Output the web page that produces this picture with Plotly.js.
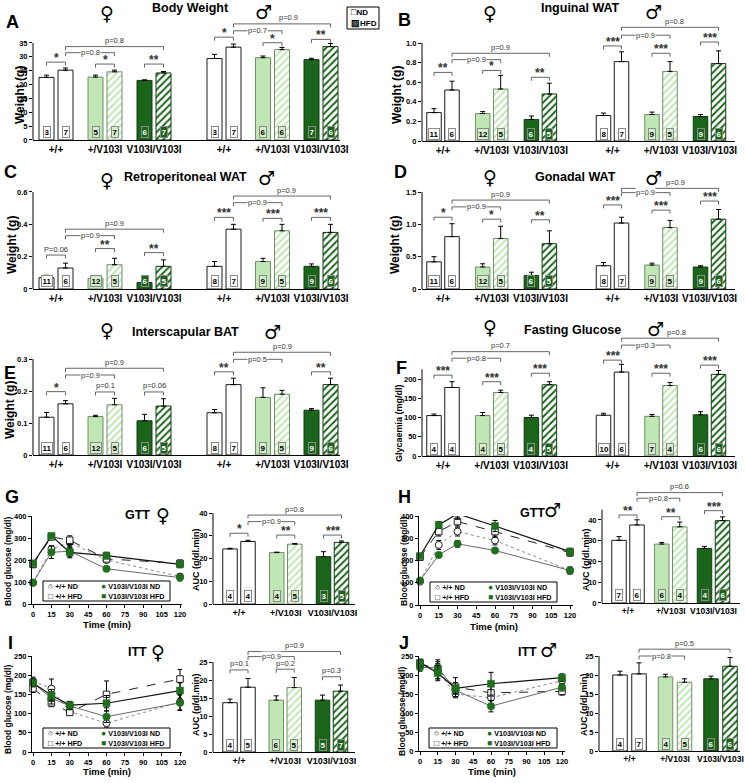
<!DOCTYPE html>
<html><head><meta charset="utf-8">
<script src="https://cdn.plot.ly/plotly-3.0.1.min.js"></script>
<style>html,body{margin:0;padding:0;background:#fff}</style>
</head><body><div id="chart" style="width:745px;height:783px"></div>
<script>
// ================= DATA =================
const genotypes = ['+/+', '+/V103I', 'V103I/V103I'];
const time = [0, 15, 30, 60, 120];
const timeTicks = [0, 15, 30, 45, 60, 75, 90, 105, 120];

// A. Body Weight (g)
const bwF_ND = [22.6, 22.7, 21.5], bwF_NDerr = [0.8, 0.7, 0.2];
const bwF_HFD = [25.2, 24.6, 24.2], bwF_HFDerr = [0.8, 0.6, 0.5];
const bwM_ND = [29.4, 29.7, 29.0], bwM_NDerr = [1.5, 0.6, 0.5];
const bwM_HFD = [33.5, 32.6, 33.7], bwM_HFDerr = [1.1, 0.8, 1.1];
const bwF_nND = [3, 5, 6], bwF_nHFD = [7, 7, 7], bwM_nND = [3, 6, 7], bwM_nHFD = [7, 6, 6];

// n for fat depots (B-E)
const fatF_nND = [11, 12, 6], fatF_nHFD = [6, 5, 5], fatM_nND = [8, 9, 9], fatM_nHFD = [7, 5, 6];

// B. Inguinal WAT (g)
const ingF_ND = [0.29, 0.28, 0.22], ingF_NDerr = [0.04, 0.02, 0.035];
const ingF_HFD = [0.52, 0.53, 0.48], ingF_HFDerr = [0.09, 0.14, 0.11];
const ingM_ND = [0.26, 0.27, 0.25], ingM_NDerr = [0.025, 0.025, 0.02];
const ingM_HFD = [0.81, 0.71, 0.79], ingM_HFDerr = [0.10, 0.10, 0.13];

// C. Retroperitoneal WAT (g)
const retF_ND = [0.07, 0.065, 0.04], retF_NDerr = [0.015, 0.008, 0.005];
const retF_HFD = [0.13, 0.15, 0.14], retF_HFDerr = [0.03, 0.04, 0.04];
const retM_ND = [0.14, 0.17, 0.14], retM_NDerr = [0.03, 0.02, 0.015];
const retM_HFD = [0.37, 0.36, 0.35], retM_HFDerr = [0.03, 0.04, 0.05];

// D. Gonadal WAT (g)
const gonF_ND = [0.42, 0.34, 0.21], gonF_NDerr = [0.08, 0.05, 0.05];
const gonF_HFD = [0.81, 0.78, 0.70], gonF_HFDerr = [0.20, 0.19, 0.20];
const gonM_ND = [0.36, 0.37, 0.34], gonM_NDerr = [0.05, 0.03, 0.02];
const gonM_HFD = [1.02, 0.95, 1.08], gonM_HFDerr = [0.09, 0.11, 0.15];

// E. Interscapular BAT (g)
const batF_ND = [0.118, 0.12, 0.107], batF_NDerr = [0.015, 0.004, 0.02];
const batF_HFD = [0.16, 0.157, 0.153], batF_HFDerr = [0.01, 0.02, 0.023];
const batM_ND = [0.132, 0.18, 0.14], batM_NDerr = [0.01, 0.03, 0.005];
const batM_HFD = [0.22, 0.19, 0.22], batM_HFDerr = [0.02, 0.012, 0.02];

// F. Fasting glucose (mg/dl)
const gluF_ND = [105, 105, 100], gluF_NDerr = [4, 8, 6];
const gluF_HFD = [178, 165, 185], gluF_HFDerr = [15, 6, 8];
const gluM_ND = [106, 103, 107], gluM_NDerr = [5, 5, 8];
const gluM_HFD = [218, 183, 212], gluM_HFDerr = [20, 8, 10];
const gluF_nND = [4, 4, 4], gluF_nHFD = [4, 5, 5], gluM_nND = [10, 7, 6], gluM_nHFD = [6, 4, 6];

// G. GTT female (mg/dl) + AUC
const gttF_wtND = [97, 250, 280, 200, 125], gttF_wtNDerr = [5, 15, 20, 10, 12];
const gttF_wtHFD = [180, 305, 290, 205, 185], gttF_wtHFDerr = [15, 10, 20, 10, 15];
const gttF_vvND = [97, 235, 240, 160, 120], gttF_vvNDerr = [5, 28, 30, 10, 15];
const gttF_vvHFD = [185, 310, 235, 220, 180], gttF_vvHFDerr = [10, 10, 20, 15, 15];
const aucGttF_ND = [24.2, 22.6, 20.8], aucGttF_NDerr = [0.3, 0.2, 2.2];
const aucGttF_HFD = [27.5, 26.3, 27.1], aucGttF_HFDerr = [0.5, 0.3, 0.6];
const aucGttF_nND = [4, 4, 3], aucGttF_nHFD = [4, 5, 5];

// H. GTT male
const gttM_wtND = [105, 270, 330, 290, 155], gttM_wtNDerr = [5, 20, 20, 20, 15];
const gttM_wtHFD = [215, 330, 375, 330, 235], gttM_wtHFDerr = [10, 20, 20, 25, 15];
const gttM_vvND = [110, 225, 275, 245, 155], gttM_vvNDerr = [5, 5, 15, 5, 15];
const gttM_vvHFD = [220, 360, 410, 355, 240], gttM_vvHFDerr = [10, 15, 25, 25, 15];
const aucGttM_ND = [30.2, 28.4, 26.3], aucGttM_NDerr = [1.8, 0.8, 1.0];
const aucGttM_HFD = [37.6, 36.7, 39.7], aucGttM_HFDerr = [2.5, 2.3, 1.8];
const aucGttM_nND = [7, 6, 4], aucGttM_nHFD = [6, 4, 6];

// I. ITT female
const ittF_wtND = [185, 165, 105, 75, 130], ittF_wtNDerr = [10, 25, 5, 10, 20];
const ittF_wtHFD = [165, 128, 103, 150, 190], ittF_wtHFDerr = [10, 10, 5, 35, 25];
const ittF_vvND = [180, 140, 120, 92, 128], ittF_vvNDerr = [10, 15, 10, 15, 20];
const ittF_vvHFD = [180, 148, 122, 127, 160], ittF_vvHFDerr = [10, 15, 10, 20, 20];
const aucIttF_ND = [13.7, 14.4, 14.4], aucIttF_NDerr = [1.0, 1.2, 1.4];
const aucIttF_HFD = [18.0, 17.9, 16.9], aucIttF_HFDerr = [2.4, 2.8, 1.7];
const aucIttF_nND = [4, 6, 5], aucIttF_nHFD = [5, 5, 7];

// J. ITT male
const ittM_wtND = [230, 210, 150, 140, 185], ittM_wtNDerr = [10, 20, 10, 15, 10];
const ittM_wtHFD = [230, 215, 168, 153, 157], ittM_wtHFDerr = [10, 25, 25, 30, 10];
const ittM_vvND = [220, 220, 160, 118, 168], ittM_vvNDerr = [10, 15, 10, 15, 10];
const ittM_vvHFD = [232, 205, 165, 177, 193], ittM_vvHFDerr = [10, 20, 15, 30, 10];
const aucIttM_ND = [20.0, 19.5, 19.0], aucIttM_NDerr = [1.0, 0.7, 0.7];
const aucIttM_HFD = [20.3, 18.1, 22.3], aucIttM_HFDerr = [2.9, 0.9, 2.3];
const aucIttM_nND = [4, 4, 6], aucIttM_nHFD = [7, 5, 6];

// ================= STYLE / LAYOUT =================
const W = 745, H = 783;
const PX = x => x / W, PY = y => 1 - y / H;
const FONT = 'Liberation Sans, Arial, sans-serif';
const SYMF = 'DejaVu Sans, sans-serif';
const TICKF = {family: FONT, size: 7.5, color: '#000', weight: 'bold'};
const ND_FILL = ['#ffffff', '#bfe6b4', '#1b651b'];
const ND_LINE = ['#1a1a1a', '#6f8f66', '#0f3f0f'];
const HFD_FG = ['#1a1a1a', '#55744c', '#6fae6f'];
const NBOX_BG = ['#ffffff', '#d2efca', '#1b651b'];
const NBOX_FG = ['#000000', '#000000', '#ffffff'];
const GREEN = '#1f6f1f';

const traces = [];
const layout = {width: W, height: H, margin: {l: 0, r: 0, t: 0, b: 0, pad: 0},
  paper_bgcolor: '#fff', plot_bgcolor: 'rgba(0,0,0,0)', showlegend: false,
  barmode: 'overlay', hovermode: false, shapes: [], annotations: []};
let nx = 0, ny = 0;
const nextX = () => { nx++; return nx === 1 ? 'x' : 'x' + nx; };
const nextY = () => { ny++; return ny === 1 ? 'y' : 'y' + ny; };
const axKey = id => id[0] + 'axis' + id.slice(1);

function txt(x, y, text, size, o) {
  layout.annotations.push(Object.assign({xref: 'paper', yref: 'paper', x: PX(x), y: PY(y), text: text,
    showarrow: false, xanchor: 'center', yanchor: 'middle',
    font: {family: FONT, size: size, color: '#000', weight: 'bold'}}, o || {}));
}

function addBarPanel(P) {
  const yid = nextY();
  const xids = P.groups.map(() => nextX());
  const sc = (P.y0 - P.refPx) / P.refVal;
  const yax = {domain: [PY(P.y0), PY(P.y0 - P.top * sc)], range: [0, P.top], anchor: xids[0],
    showline: false, ticks: 'outside', ticklen: 3, tickwidth: 1, tickcolor: '#000',
    tickvals: P.yt, tickfont: TICKF, showgrid: false, zeroline: false, fixedrange: true};
  if (P.ytt) yax.ticktext = P.ytt;
  layout[axKey(yid)] = yax;
  layout.shapes.push({type: 'line', xref: 'paper', yref: yid, x0: PX(P.yx), x1: PX(P.yx), y0: 0, y1: P.axisTop,
    line: {color: '#000', width: 1}});
  P.groups.forEach((g, k) => {
    const xid = xids[k];
    const r0 = -(g.c0 - g.dom[0]) / g.s;
    layout[axKey(xid)] = {domain: [PX(g.dom[0]), PX(g.dom[1])], range: [r0, r0 + (g.dom[1] - g.dom[0]) / g.s],
      type: 'category', anchor: yid, showline: true, linecolor: '#000', linewidth: 1, ticks: '', tickangle: 0,
      tickfont: {family: FONT, size: P.gfs || 10, color: '#000', weight: 'bold'},
      showgrid: false, zeroline: false, fixedrange: true};
    const off = P.offPx / g.s, bw = P.bwPx / g.s;
    const zeros = [0, 0, 0];
    const eb = arr => ({type: 'data', array: arr, arrayminus: zeros, symmetric: false, color: '#000', thickness: 1, width: 2.5});
    traces.push({type: 'bar', x: genotypes, y: g.nd, xaxis: xid, yaxis: yid, offset: -off - bw / 2, width: bw,
      marker: {color: ND_FILL, line: {color: ND_LINE, width: 1}}, error_y: eb(g.ndErr)});
    traces.push({type: 'bar', x: genotypes, y: g.hfd, xaxis: xid, yaxis: yid, offset: off - bw / 2, width: bw,
      marker: {color: ND_FILL, line: {color: ND_LINE, width: 1},
        pattern: {shape: '/', fillmode: 'replace', bgcolor: ND_FILL, fgcolor: HFD_FG, size: 5, solidity: 0.4}},
      error_y: eb(g.hfdErr)});
    for (let i = 0; i < 3; i++) {
      [[i - off, g.nNd[i]], [i + off, g.nHfd[i]]].forEach(([xx, n]) => {
        layout.annotations.push({xref: xid, yref: yid, x: xx, y: 0, text: String(n), showarrow: false,
          xanchor: 'center', yanchor: 'bottom', yshift: 1.5, bgcolor: NBOX_BG[i], bordercolor: '#8a8a8a',
          borderwidth: 1, borderpad: 0.5, font: {family: FONT, size: 8, color: NBOX_FG[i], weight: 'bold'}});
      });
    }
    g.sig.forEach(b => {
      let xa, xb;
      if (b.t === 'pair') { xa = b.i - off; xb = b.i + off; }
      else { xa = b.i0 + off; xb = b.i1 + off; }
      const inline = b.t === 'in';
      const L = {color: '#555', width: 0.9};
      layout.shapes.push({type: 'line', xref: xid, yref: yid, x0: xa, x1: xb, y0: b.y, y1: b.y, line: L});
      [xa, xb].forEach(xx => layout.shapes.push({type: 'line', xref: xid, yref: yid, x0: xx, x1: xx,
        ysizemode: 'pixel', yanchor: b.y, y0: 0, y1: -3.5, line: L}));
      const star = /^\*+$/.test(b.txt);
      const a = {xref: xid, yref: yid, x: (xa + xb) / 2, y: b.y, text: b.txt, showarrow: false,
        xanchor: 'center', yanchor: inline ? 'middle' : 'bottom', yshift: inline ? 0 : (star ? -5 : -0.5),
        xshift: b.dx || 0,
        font: {family: FONT, size: star ? 12 : 7.5, color: '#333', weight: star ? 'bold' : 'normal'}};
      if (inline) { a.bgcolor = '#ffffff'; a.borderpad = 0; }
      layout.annotations.push(a);
    });
  });
}

const pairs = (ys, txts) => ys.map((y, i) => ({t: 'pair', i: i, y: y, txt: txts[i]})).filter(o => o.txt);
const spans = (yin, tin, yout, tout, dx) => [{t: 'in', i0: 0, i1: 1, y: yin, txt: tin}, {t: 'out', i0: 0, i1: 2, y: yout, txt: tout, dx: dx}];

const LEFT_F = {dom: [33, 189], c0: 56, s: 49}, LEFT_M = {dom: [189, 340], c0: 224, s: 48.5};
const RIGHT_F = {dom: [422, 576], c0: 443, s: 48.7}, RIGHT_M = {dom: [576, 735], c0: 612.5, s: 48.5};
const grp = (pos, nd, ndErr, hfd, hfdErr, nNd, nHfd, sig) =>
  Object.assign({}, pos, {nd, ndErr, hfd, hfdErr, nNd, nHfd, sig});

const barPanels = [
  // A
  {y0: 140, refVal: 35, refPx: 43, top: 45, axisTop: 35, yx: 33, offPx: 9.5, bwPx: 15,
   yt: [0, 5, 10, 15, 20, 25, 30, 35],
   groups: [
     grp(LEFT_F, bwF_ND, bwF_NDerr, bwF_HFD, bwF_HFDerr, bwF_nND, bwF_nHFD,
       pairs([28.1, 27.4, 27.4], ['*', '*', '**']).concat(spans(31.5, 'p=0.8', 33.7, 'p=0.8'))),
     grp(LEFT_M, bwM_ND, bwM_NDerr, bwM_HFD, bwM_HFDerr, bwM_nND, bwM_nHFD,
       pairs([37.1, 35.1, 36.3], ['*', '*', '**']).concat(spans(39.4, 'p=0.7', 41.9, 'p=0.9', 6)))]},
  // B
  {y0: 141, refVal: 1.0, refPx: 43, top: 1.25, axisTop: 1.0, yx: 422, offPx: 9, bwPx: 14.5,
   yt: [0, 0.2, 0.4, 0.6, 0.8, 1.0], ytt: ['0', '0.2', '0.4', '0.6', '0.8', '1.0'],
   groups: [
     grp(RIGHT_F, ingF_ND, ingF_NDerr, ingF_HFD, ingF_HFDerr, fatF_nND, fatF_nHFD,
       pairs([0.70, 0.72, 0.65], ['**', '*', '**']).concat(spans(0.83, 'p=0.9', 0.895, 'p=0.9'))),
     grp(RIGHT_M, ingM_ND, ingM_NDerr, ingM_HFD, ingM_HFDerr, fatM_nND, fatM_nHFD,
       pairs([0.97, 0.895, 1.01], ['***', '***', '***']).concat(spans(1.08, 'p=0.9', 1.16, 'p=0.8', 4)))]},
  // C
  {y0: 289, refVal: 0.6, refPx: 192, top: 0.65, axisTop: 0.6, yx: 33, offPx: 9.5, bwPx: 15,
   yt: [0, 0.2, 0.4, 0.6], ytt: ['0', '0.2', '0.4', '0.6'],
   groups: [
     grp(LEFT_F, retF_ND, retF_NDerr, retF_HFD, retF_HFDerr, fatF_nND, fatF_nHFD,
       pairs([0.21, 0.25, 0.225], ['P=0.06', '**', '**']).concat(spans(0.33, 'p=0.9', 0.37, 'p=0.9'))),
     grp(LEFT_M, retM_ND, retM_NDerr, retM_HFD, retM_HFDerr, fatM_nND, fatM_nHFD,
       pairs([0.443, 0.437, 0.443], ['***', '***', '***']).concat(spans(0.534, 'p=0.9', 0.575, 'p=0.9', 4)))]},
  // D
  {y0: 289, refVal: 1.5, refPx: 192, top: 1.65, axisTop: 1.5, yx: 422, offPx: 9, bwPx: 14.5,
   yt: [0, 0.5, 1.0, 1.5], ytt: ['0', '0.5', '1.0', '1.5'],
   groups: [
     grp(RIGHT_F, gonF_ND, gonF_NDerr, gonF_HFD, gonF_HFDerr, fatF_nND, fatF_nHFD,
       pairs([1.11, 1.08, 1.07], ['*', '*', '**']).concat(spans(1.27, 'p=0.9', 1.375, 'p=0.9'))),
     grp(RIGHT_M, gonM_ND, gonM_NDerr, gonM_HFD, gonM_HFDerr, fatM_nND, fatM_nHFD,
       pairs([1.30, 1.22, 1.36], ['***', '***', '***']).concat(spans(1.49, 'p=0.9', 1.556, 'p=0.9', 5)))]},
  // E
  {y0: 455, refVal: 0.3, refPx: 359, top: 0.335, axisTop: 0.3, yx: 33, offPx: 9.5, bwPx: 15,
   yt: [0, 0.1, 0.2, 0.3], ytt: ['0', '0.1', '0.2', '0.3'],
   groups: [
     grp(LEFT_F, batF_ND, batF_NDerr, batF_HFD, batF_HFDerr, fatF_nND, fatF_nHFD,
       pairs([0.198, 0.197, 0.197], ['*', 'p=0.1', 'p=0.06']).concat(spans(0.25, 'p=0.9', 0.271, 'p=0.9'))),
     grp(LEFT_M, batM_ND, batM_NDerr, batM_HFD, batM_HFDerr, fatM_nND, fatM_nHFD,
       pairs([0.26, 0, 0.26], ['**', '', '**']).concat(spans(0.299, 'p=0.5', 0.321, 'p=0.9')))]},
  // F
  {y0: 456, refVal: 200, refPx: 379, top: 320, axisTop: 225, yx: 422, offPx: 9, bwPx: 14.5,
   yt: [0, 50, 100, 150, 200],
   groups: [
     grp(RIGHT_F, gluF_ND, gluF_NDerr, gluF_HFD, gluF_HFDerr, gluF_nND, gluF_nHFD,
       pairs([210, 193, 215], ['***', '***', '***']).concat(spans(254, 'p=0.8', 271, 'p=0.7'))),
     grp(RIGHT_M, gluM_ND, gluM_NDerr, gluM_HFD, gluM_HFDerr, gluM_nND, gluM_nHFD,
       pairs([249, 215, 236], ['***', '***', '***']).concat(spans(288, 'p=0.3', 306, 'p=0.8', 6)))]},
  // G AUC
  {y0: 604, refVal: 40, refPx: 513, top: 42, axisTop: 40, yx: 213, offPx: 9, bwPx: 14.5, gfs: 9,
   yt: [0, 10, 20, 30, 40],
   groups: [grp({dom: [213, 355], c0: 239, s: 46.75}, aucGttF_ND, aucGttF_NDerr, aucGttF_HFD, aucGttF_HFDerr,
     aucGttF_nND, aucGttF_nHFD, pairs([31.1, 30.3, 30.3], ['*', '**', '***']).concat(spans(36.2, 'p=0.9', 39.1, 'p=0.8')))]},
  // H AUC
  {y0: 603, refVal: 40, refPx: 520, top: 55, axisTop: 45, yx: 602, offPx: 9, bwPx: 14.5, gfs: 8.5,
   yt: [0, 10, 20, 30, 40],
   groups: [grp({dom: [602, 740], c0: 628, s: 42.75}, aucGttM_ND, aucGttM_NDerr, aucGttM_HFD, aucGttM_HFDerr,
     aucGttM_nND, aucGttM_nHFD, pairs([42.4, 41.6, 44.5], ['**', '**', '***']).concat(spans(50.5, 'p=0.8', 53.2, 'p=0.6')))]},
  // I AUC
  {y0: 752, refVal: 25, refPx: 662, top: 28.5, axisTop: 25, yx: 213, offPx: 9, bwPx: 14.5, gfs: 9,
   yt: [0, 5, 10, 15, 20, 25],
   groups: [grp({dom: [213, 355], c0: 239, s: 46.25}, aucIttF_ND, aucIttF_NDerr, aucIttF_HFD, aucIttF_HFDerr,
     aucIttF_nND, aucIttF_nHFD, pairs([22.8, 23, 20.9], ['p=0.1', 'p=0.2', 'p=0.3']).concat(spans(26.5, 'p=0.9', 27.9, 'p=0.9')))]},
  // J AUC
  {y0: 751, refVal: 25, refPx: 656, top: 27.5, axisTop: 25, yx: 599, offPx: 9.5, bwPx: 14.5, gfs: 8.5,
   yt: [0, 5, 10, 15, 20, 25],
   groups: [grp({dom: [599, 740], c0: 629.5, s: 45.5}, aucIttM_ND, aucIttM_NDerr, aucIttM_HFD, aucIttM_HFDerr,
     aucIttM_nND, aucIttM_nHFD, spans(25, 'p=0.8', 26.8, 'p=0.5'))]}
];
barPanels.forEach(addBarPanel);

// ---------- line panels ----------
const SERIES_STYLE = [
  {name: '+/+ ND', line: {color: '#8a8a8a', width: 1, dash: 'dot'}, marker: {symbol: 'circle', size: 7, color: '#fff', line: {color: '#222', width: 1}}},
  {name: '+/+ HFD', line: {color: '#222', width: 1, dash: 'dash'}, marker: {symbol: 'square', size: 6.5, color: '#fff', line: {color: '#222', width: 1}}},
  {name: 'V103I/V103I ND', line: {color: '#6a6a6a', width: 1}, marker: {symbol: 'circle', size: 7.5, color: GREEN, line: {color: GREEN, width: 0.5}}},
  {name: 'V103I/V103I HFD', line: {color: '#111', width: 1.2}, marker: {symbol: 'square', size: 7, color: GREEN, line: {color: GREEN, width: 0.5}}}
];
function addLinePanel(L) {
  const xid = nextX(), yid = nextY();
  const sc = (L.x120 - L.x0) / 120;
  layout[axKey(xid)] = {domain: [PX(L.xd[0]), PX(L.xd[1])], range: [-(L.x0 - L.xd[0]) / sc, 120 + (L.xd[1] - L.x120) / sc],
    anchor: yid, showline: true, linecolor: '#000', linewidth: 1, ticks: 'outside', ticklen: 3, tickcolor: '#000',
    tickvals: timeTicks, tickangle: 0, tickfont: TICKF, showgrid: false, zeroline: false, fixedrange: true};
  layout[axKey(yid)] = {domain: [PY(L.y0), PY(L.refPx)], range: [0, L.refVal], anchor: xid, showline: true,
    linecolor: '#000', linewidth: 1, ticks: 'outside', ticklen: 3, tickcolor: '#000', tickvals: L.yt,
    tickfont: TICKF, showgrid: false, zeroline: false, fixedrange: true};
  L.series.forEach((s, k) => {
    const st = SERIES_STYLE[k];
    traces.push({type: 'scatter', mode: 'lines+markers', x: time, y: s[0], xaxis: xid, yaxis: yid, cliponaxis: false,
      line: st.line, marker: st.marker,
      error_y: {type: 'data', array: s[1], color: '#000', thickness: 1, width: 2.5}});
  });
  const [bx0, bx1, by0, by1] = L.legend;
  layout.shapes.push({type: 'rect', xref: 'paper', yref: 'paper', x0: PX(bx0), x1: PX(bx1), y0: PY(by1), y1: PY(by0),
    line: {color: '#000', width: 1}, fillcolor: '#fff', layer: 'below'});
  const r1 = by0 + 4.8, r2 = by1 - 4.8;
  const c1 = bx0 + 3, c2 = bx0 + (bx1 - bx0) * 0.44;
  const lf = {family: FONT, size: 7.2, color: '#000', weight: 'bold'};
  const g = (ch, col) => '<span style="font-size:8.5px;color:' + col + '">' + ch + '</span> ';
  txt(c1, r1, g('○', '#000') + SERIES_STYLE[0].name, 7.2, {xanchor: 'left', font: lf});
  txt(c1, r2, g('□', '#000') + SERIES_STYLE[1].name, 7.2, {xanchor: 'left', font: lf});
  txt(c2, r1, g('●', GREEN) + SERIES_STYLE[2].name, 7.2, {xanchor: 'left', font: lf});
  txt(c2, r2, g('■', GREEN) + SERIES_STYLE[3].name, 7.2, {xanchor: 'left', font: lf});
}
const linePanels = [
  {xd: [32, 182], x0: 33, x120: 180, y0: 604, refVal: 400, refPx: 516, yt: [0, 100, 200, 300, 400], legend: [43, 170, 581, 601],
   series: [[gttF_wtND, gttF_wtNDerr], [gttF_wtHFD, gttF_wtHFDerr], [gttF_vvND, gttF_vvNDerr], [gttF_vvHFD, gttF_vvHFDerr]]},
  {xd: [419, 573], x0: 420, x120: 570, y0: 605, refVal: 400, refPx: 516, yt: [0, 100, 200, 300, 400], legend: [430, 557, 582, 602],
   series: [[gttM_wtND, gttM_wtNDerr], [gttM_wtHFD, gttM_wtHFDerr], [gttM_vvND, gttM_vvNDerr], [gttM_vvHFD, gttM_vvHFDerr]]},
  {xd: [32, 182], x0: 33, x120: 180, y0: 752, refVal: 250, refPx: 656, yt: [0, 50, 100, 150, 200, 250], legend: [43, 170, 728, 748],
   series: [[ittF_wtND, ittF_wtNDerr], [ittF_wtHFD, ittF_wtHFDerr], [ittF_vvND, ittF_vvNDerr], [ittF_vvHFD, ittF_vvHFDerr]]},
  {xd: [419, 565], x0: 420, x120: 562, y0: 751, refVal: 250, refPx: 656, yt: [0, 50, 100, 150, 200, 250], legend: [429, 557, 728, 748],
   series: [[ittM_wtND, ittM_wtNDerr], [ittM_wtHFD, ittM_wtHFDerr], [ittM_vvND, ittM_vvNDerr], [ittM_vvHFD, ittM_vvHFDerr]]}
];
linePanels.forEach(addLinePanel);

// ---------- text: letters, titles, sex symbols, axis titles ----------
const FEM = '♀', MAL = '♂';
const sym = (x, y, c) => txt(x, y, c, 19, {font: {family: SYMF, size: 19, color: '#000', weight: 'bold'}});
[['A', 13, 22], ['B', 404, 20], ['C', 10, 172], ['D', 400, 172], ['E', 10, 373], ['F', 402, 368],
 ['G', 12, 497], ['H', 404, 497], ['I', 10, 643], ['J', 404, 643]].forEach(([t, x, y]) => txt(x, y, t, 18));
[['Body Weight', 190, 8], ['Inguinal WAT', 580, 8], ['Retroperitoneal WAT', 185, 177], ['Gonadal WAT', 575, 177],
 ['Interscapular BAT', 185, 332], ['Fasting Glucose', 572, 330]].forEach(([t, x, y]) => txt(x, y, t, 12.5));
[[107, 13, FEM], [263, 12, MAL], [490, 13, FEM], [653, 12, MAL], [107, 180, FEM], [266, 178, MAL],
 [490, 177, FEM], [653, 178, MAL], [107, 330, FEM], [272, 332, MAL], [490, 327, FEM], [655, 329, MAL],
 [163, 515, FEM], [552, 510, MAL], [158, 652, FEM], [548, 650, MAL]].forEach(([x, y, c]) => sym(x, y, c));
[['GTT', 137, 515], ['GTT', 532, 513], ['ITT', 137, 652], ['ITT', 527, 652]].forEach(([t, x, y]) => txt(x, y, t, 12.5));
const rot = {textangle: -90};
[['Weight (g)', 20, 95, 12], ['Weight (g)', 397, 95, 12], ['Weight (g)', 12, 245, 12], ['Weight (g)', 395, 245, 12],
 ['Weight (g)', 10, 410, 12], ['Glycaemia (mg/dl)', 399, 423, 9],
 ['Blood glucose (mg/dl)', 8, 562, 8.5], ['Blood glucose (mg/dl)', 404, 562, 8.5],
 ['Blood glucose (mg/dl)', 8, 710, 8.5], ['Blood glucose (mg/dl)', 402, 711, 8.5],
 ['AUC (g/dl.min)', 196, 560, 9], ['AUC (g/dl.min)', 586, 560, 9], ['AUC (g/dl.min)', 196, 705, 9], ['AUC (g/dl.min)', 584, 705, 9]]
 .forEach(([t, x, y, s]) => txt(x, y, t, s, rot));
[[107, 624], [494, 626], [107, 771], [492, 771]].forEach(([x, y]) => txt(x, y, 'Time (min)', 9.5));

// ND / HFD key
layout.shapes.push({type: 'rect', xref: 'paper', yref: 'paper', x0: PX(347), x1: PX(379), y0: PY(29), y1: PY(7), line: {color: '#000', width: 1}});
txt(349, 12.5, '<span style="font-size:9px">□</span>ND', 8, {xanchor: 'left'});
txt(349, 23.5, '<span style="font-size:9px">▨</span>HFD', 8, {xanchor: 'left'});

Plotly.newPlot('chart', traces, layout, {staticPlot: true, displayModeBar: false});
</script></body></html>
